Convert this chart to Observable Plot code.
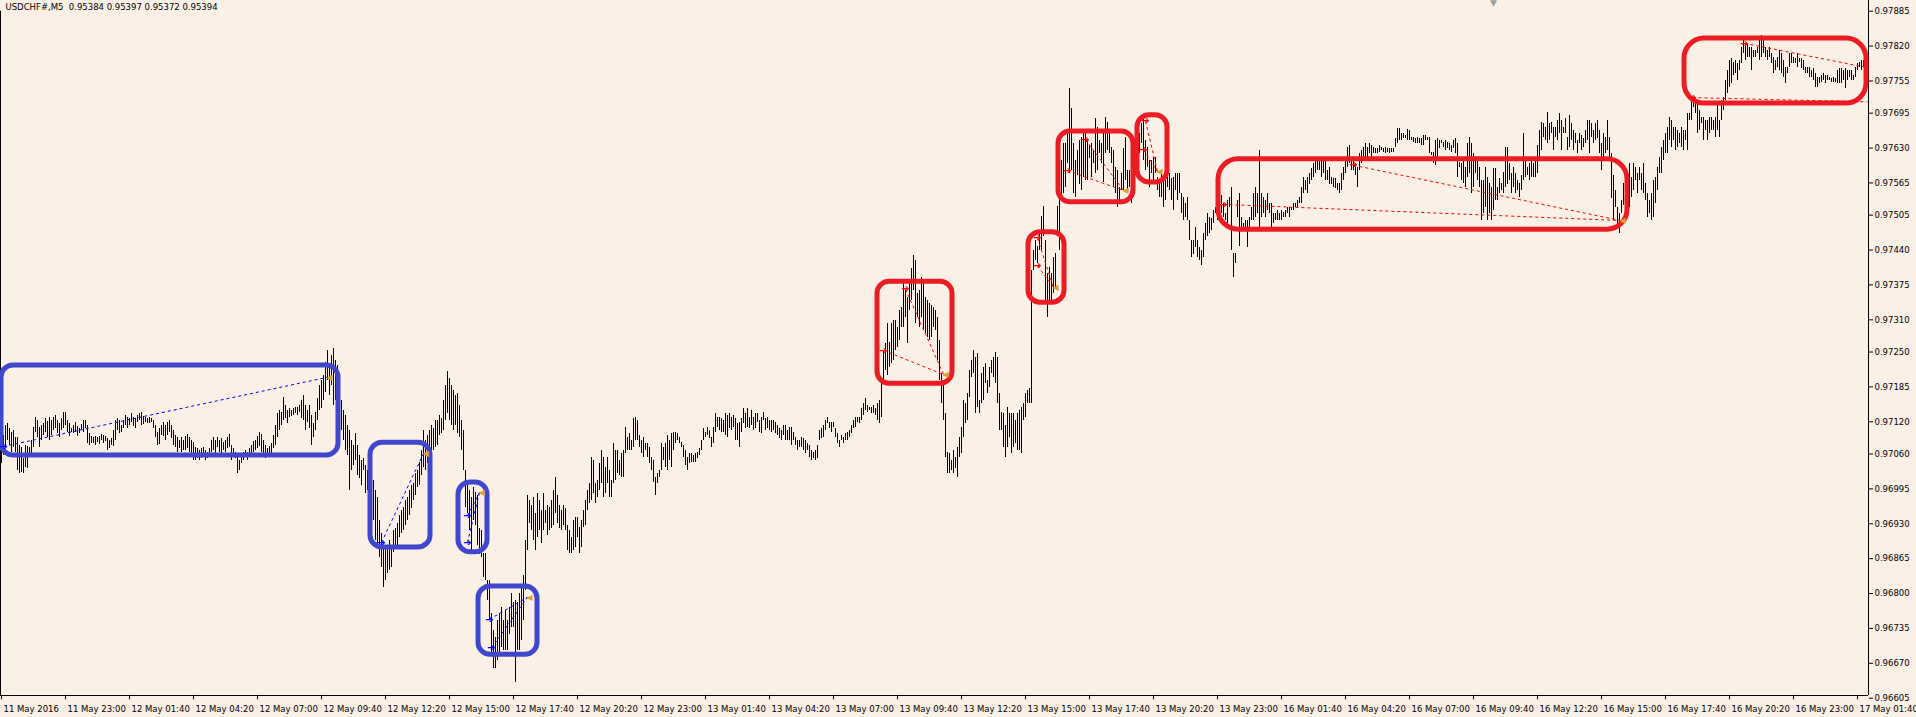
<!DOCTYPE html>
<html>
<head>
<meta charset="utf-8">
<script src="https://cdn.jsdelivr.net/npm/d3@7"></script>
<script src="https://cdn.jsdelivr.net/npm/@observablehq/plot@0.6"></script>
<style>
  html, body { margin: 0; padding: 0; background: #faf0e6; overflow: hidden; }
  svg { display: block; }
</style>
</head>
<body>
<div id="chart"></div>
<script>
// ---- DATA (prices in units of 0.00001) ----
const symbolTitle = "USDCHF#,M5  0.95384 0.95397 0.95372 0.95394";

const barHigh = [
97082,97094,97113,97117,97107,97100,97104,97091,97091,97076,
97072,97052,97076,97074,97072,97085,97110,97128,97122,97110,
97113,97117,97126,97120,97128,97122,97128,97132,97122,97117,
97126,97137,97137,97122,97117,97107,97113,97119,97111,97107,
97115,97122,97122,97113,97098,97093,97091,97093,97091,97093,
97096,97094,97093,97089,97085,97089,97104,97122,97126,97122,
97113,97122,97132,97128,97126,97135,97128,97126,97132,97135,
97137,97130,97128,97126,97128,97126,97122,97113,97100,97107,
97113,97119,97113,97119,97122,97113,97104,97094,97091,97085,
97091,97085,97093,97096,97091,97085,97081,97072,97070,97066,
97070,97072,97066,97063,97070,97085,97091,97085,97091,97085,
97089,97081,97085,97091,97096,97076,97070,97063,97057,97048,
97057,97063,97066,97063,97070,97076,97083,97085,97093,97100,
97096,97085,97076,97070,97074,97079,97094,97113,97135,97141,
97137,97165,97150,97141,97145,97141,97145,97147,97147,97150,
97160,97169,97150,97141,97150,97132,97117,97137,97163,97188,
97197,97206,97230,97253,97225,97243,97256,97234,97225,97197,
97160,97141,97132,97113,97104,97085,97076,97098,97076,97057,
97048,97052,97039,97029,97020,97011,97011,96992,96979,96936,
96912,96890,96886,96884,96899,96890,96917,96921,96931,96945,
96955,96960,96973,96979,96992,97001,97005,97024,97029,97044,
97066,97104,97085,97094,97104,97113,97107,97122,97122,97132,
97126,97160,97188,97214,97200,97188,97178,97169,97173,97150,
97122,97104,97029,97005,96992,96979,96997,96988,96983,96921,
96917,96875,96875,96824,96824,96762,96731,96718,96750,96762,
96774,96750,96768,96750,96774,96800,96783,96787,96783,96800,
96815,96834,96899,96983,96973,96964,96979,96949,96986,96973,
96955,96986,96955,96964,96960,96973,96992,97016,96983,96964,
96955,96964,96958,96927,96917,96904,96936,96941,96941,96923,
96936,96955,96973,96992,97005,97053,97048,97005,97011,97042,
97066,97053,97035,97053,97029,97011,97079,97066,97066,97048,
97061,97066,97109,97091,97098,97085,97126,97128,97122,97094,
97085,97091,97079,97079,97072,97053,97048,97016,97024,97029,
97079,97072,97079,97094,97085,97098,97100,97100,97098,97091,
97081,97076,97066,97053,97061,97061,97057,97061,97063,97070,
97085,97107,97100,97109,97104,97091,97109,97135,97128,97128,
97126,97122,97135,97132,97135,97128,97132,97126,97117,97119,
97126,97145,97135,97145,97128,97141,97128,97135,97135,97122,
97128,97137,97126,97128,97122,97122,97122,97119,97113,97107,
97104,97113,97113,97104,97109,97109,97100,97091,97085,97085,
97091,97089,97085,97079,97076,97066,97063,97066,97076,97104,
97107,97113,97122,97128,97119,97119,97119,97107,97098,97085,
97094,97091,97098,97100,97104,97113,97122,97128,97128,97128,
97145,97154,97163,97150,97147,97147,97150,97145,97154,97160,
97197,97253,97266,97303,97268,97303,97309,97309,97296,97327,
97333,97378,97365,97352,97378,97406,97430,97421,97359,97365,
97389,97378,97352,97346,97340,97337,97333,97327,97314,97271,
97210,97191,97135,97063,97061,97048,97066,97053,97072,97091,
97109,97160,97154,97173,97216,97234,97253,97240,97247,97160,
97210,97221,97229,97197,97221,97234,97240,97249,97240,97173,
97137,97135,97113,97147,97135,97135,97135,97122,97135,97141,
97147,97154,97173,97178,97182,97402,97439,97458,97447,97476,
97502,97521,97458,97396,97408,97396,97426,97434,97521,97588,
97607,97638,97638,97663,97741,97704,97638,97607,97625,97644,
97650,97659,97657,97644,97635,97638,97625,97685,97668,97644,
97638,97657,97687,97678,97663,97631,97625,97594,97588,97556,
97582,97629,97650,97588,97588,97601,97607,97644,97653,97657,
97676,97685,97644,97631,97607,97607,97612,97612,97575,97569,
97588,97575,97569,97582,97582,97573,97575,97582,97582,97582,
97545,97538,97527,97538,97495,97458,97458,97482,97458,97445,
97439,97471,97490,97508,97501,97499,97514,97519,97508,97545,
97542,97527,97508,97532,97538,97556,97434,97434,97532,97545,
97501,97490,97495,97495,97501,97519,97545,97556,97545,97625,
97545,97538,97532,97545,97527,97527,97508,97508,97514,97508,
97514,97510,97514,97519,97519,97519,97527,97527,97532,97538,
97556,97575,97569,97575,97582,97592,97601,97607,97612,97607,
97612,97607,97607,97588,97594,97575,97573,97573,97564,97564,
97582,97594,97607,97631,97635,97612,97607,97601,97594,97620,
97625,97631,97638,97631,97638,97635,97631,97629,97629,97635,
97631,97629,97631,97629,97629,97629,97629,97648,97666,97666,
97657,97657,97653,97664,97663,97650,97650,97648,97650,97648,
97648,97653,97653,97650,97650,97622,97622,97644,97648,97644,
97644,97640,97644,97640,97638,97635,97644,97648,97638,97603,
97601,97607,97594,97638,97650,97638,97620,97607,97607,97594,
97570,97570,97594,97575,97564,97556,97592,97592,97556,97573,
97564,97584,97631,97631,97601,97582,97594,97582,97570,97564,
97579,97657,97607,97594,97601,97612,97601,97612,97635,97663,
97678,97676,97668,97696,97676,97678,97668,97668,97681,97694,
97681,97668,97685,97650,97691,97676,97663,97657,97644,97657,
97653,97648,97663,97681,97681,97676,97663,97676,97681,97663,
97638,97657,97650,97681,97650,97620,97579,97551,97519,97508,
97532,97564,97588,97579,97601,97575,97601,97594,97582,97594,
97582,97601,97564,97545,97532,97545,97570,97575,97594,97612,
97631,97644,97657,97668,97687,97681,97668,97668,97663,97657,
97668,97663,97663,97694,97694,97724,97713,97719,97713,97700,
97687,97687,97681,97681,97687,97687,97681,97687,97713,97681,
97719,97724,97756,97774,97793,97797,97789,97793,97787,97793,
97817,97830,97824,97824,97817,97817,97812,97812,97817,97830,
97840,97830,97817,97812,97817,97806,97799,97793,97799,97812,
97806,97793,97780,97780,97806,97806,97799,97797,97806,97797,
97797,97793,97780,97780,97780,97774,97778,97769,97761,97761,
97765,97769,97765,97765,97761,97759,97761,97759,97774,97778,
97778,97774,97778,97774,97774,97774,97765,97780,97787,97789,
97793,97793,97787
];

const barLow = [
97042,97057,97072,97085,97076,97062,97072,97062,97029,97023,
97025,97023,97035,97033,97057,97061,97072,97100,97091,97072,
97085,97094,97100,97091,97085,97094,97104,97107,97098,97091,
97104,97107,97113,97100,97093,97100,97098,97100,97093,97098,
97104,97100,97107,97079,97076,97079,97079,97076,97081,97078,
97085,97079,97083,97066,97070,97076,97074,97085,97104,97098,
97100,97107,97113,97107,97113,97119,97111,97107,97119,97122,
97113,97115,97119,97117,97117,97119,97107,97091,97076,97078,
97094,97093,97085,97094,97100,97089,97076,97072,97062,97070,
97062,97066,97066,97070,97062,97057,97048,97048,97052,97048,
97052,97057,97048,97052,97055,97063,97066,97057,97072,97063,
97057,97066,97063,97070,97072,97048,97057,97052,97023,97029,
97042,97048,97055,97048,97055,97055,97063,97066,97070,97074,
97063,97057,97052,97055,97057,97055,97070,97076,97091,97104,
97113,97122,97126,97117,97128,97130,97132,97135,97132,97137,
97126,97122,97104,97119,97107,97076,97091,97104,97122,97141,
97145,97160,97174,97197,97169,97188,97150,97160,97206,97132,
97104,97085,97066,97057,96992,97029,97039,97048,97020,97015,
97001,97029,96986,96992,96986,96983,96936,96899,96890,96867,
96848,96812,96825,96838,96843,96849,96876,96886,96890,96904,
96912,96917,96927,96936,96945,96958,96973,96983,96997,97001,
97020,97035,97029,97042,97057,97063,97066,97072,97076,97094,
97098,97104,97122,97135,97122,97113,97104,97113,97098,97091,
97066,97029,96960,96949,96917,96880,96936,96927,96890,96873,
96867,96830,96824,96787,96750,96688,96660,96660,96675,96688,
96699,96694,96694,96694,96724,96737,96737,96634,96694,96694,
96712,96750,96806,96880,96930,96917,96899,96880,96904,96917,
96893,96917,96930,96908,96917,96921,96927,96949,96930,96921,
96917,96927,96917,96880,96875,96875,96880,96886,96904,96875,
96886,96923,96927,96955,96967,96973,96986,96967,96979,96992,
97005,96979,96986,97005,96979,96979,97005,97011,97024,97020,
97016,97016,97061,97066,97066,97066,97072,97085,97085,97072,
97061,97053,97066,97053,97042,97029,97007,96983,97005,97016,
97029,97048,97035,97029,97048,97035,97066,97079,97085,97079,
97072,97053,97039,97029,97042,97044,97044,97044,97052,97057,
97066,97085,97091,97094,97089,97072,97079,97100,97109,97104,
97100,97100,97094,97091,97107,97104,97109,97085,97085,97072,
97100,97117,97107,97109,97107,97113,97104,97107,97119,97100,
97098,97122,97104,97107,97104,97100,97104,97098,97094,97089,
97085,97094,97085,97085,97085,97076,97085,97076,97066,97072,
97072,97066,97061,97066,97053,97048,97052,97048,97052,97085,
97089,97091,97104,97117,97107,97100,97109,97091,97079,97072,
97085,97079,97085,97085,97091,97098,97107,97109,97119,97117,
97122,97132,97141,97137,97141,97135,97135,97132,97122,97117,
97128,97197,97216,97206,97221,97229,97234,97253,97258,97271,
97296,97296,97314,97266,97327,97346,97365,97303,97314,97296,
97314,97290,97284,97277,97271,97277,97296,97290,97234,97197,
97154,97122,97053,97024,97024,97029,97024,97033,97016,97053,
97061,97091,97117,97122,97165,97203,97210,97135,97147,97135,
97154,97160,97191,97173,97184,97210,97203,97191,97154,97104,
97104,97072,97053,97072,97091,97061,97072,97079,97066,97066,
97061,97122,97128,97154,97154,97154,97402,97420,97415,97439,
97439,97465,97340,97314,97346,97346,97359,97371,97465,97439,
97532,97545,97556,97601,97582,97588,97545,97538,97579,97562,
97551,97575,97569,97569,97610,97575,97601,97582,97588,97620,
97601,97566,97620,97625,97620,97601,97556,97545,97519,97532,
97551,97551,97569,97545,97556,97527,97538,97579,97612,97620,
97638,97607,97588,97594,97556,97582,97569,97582,97551,97538,
97538,97519,97532,97556,97551,97532,97514,97551,97532,97545,
97508,97495,97501,97495,97458,97426,97432,97445,97426,97420,
97411,97426,97458,97465,97471,97476,97490,97508,97495,97514,
97508,97501,97495,97490,97519,97439,97389,97415,97501,97447,
97482,97476,97480,97445,97482,97495,97495,97501,97508,97482,
97501,97508,97501,97514,97508,97482,97490,97495,97495,97495,
97495,97501,97501,97508,97501,97514,97514,97519,97519,97527,
97527,97545,97551,97545,97562,97569,97575,97582,97588,97588,
97575,97582,97569,97569,97562,97562,97556,97554,97551,97545,
97551,97569,97582,97594,97601,97588,97588,97579,97556,97588,
97601,97607,97607,97612,97620,97612,97620,97620,97620,97622,
97625,97622,97620,97622,97620,97622,97622,97631,97638,97644,
97644,97648,97648,97644,97644,97644,97640,97638,97638,97638,
97635,97635,97644,97644,97620,97616,97601,97597,97607,97629,
97638,97631,97625,97629,97625,97622,97629,97620,97575,97594,
97570,97564,97556,97575,97582,97545,97556,97582,97569,97556,
97495,97508,97519,97495,97508,97495,97514,97532,97532,97545,
97551,97545,97556,97562,97570,97545,97556,97545,97551,97538,
97551,97570,97575,97579,97570,97575,97575,97575,97582,97612,
97625,97650,97644,97638,97644,97657,97625,97650,97644,97657,
97625,97657,97657,97625,97631,97644,97625,97638,97620,97638,
97625,97631,97638,97644,97620,97650,97638,97644,97648,97620,
97588,97612,97620,97625,97607,97536,97495,97519,97482,97471,
97508,97523,97514,97532,97519,97538,97551,97570,97545,97570,
97551,97545,97532,97501,97508,97495,97501,97527,97551,97582,
97582,97607,97620,97620,97644,97631,97644,97625,97631,97638,
97631,97625,97644,97625,97681,97681,97705,97694,97657,97663,
97676,97644,97663,97644,97657,97663,97663,97650,97663,97650,
97681,97700,97719,97731,97743,97750,97765,97769,97756,97774,
97787,97806,97793,97799,97799,97774,97799,97799,97806,97793,
97799,97806,97799,97793,97799,97787,97769,97774,97780,97774,
97769,97761,97750,97769,97780,97787,97787,97787,97780,97789,
97778,97774,97769,97769,97761,97761,97756,97743,97743,97750,
97752,97756,97750,97756,97756,97752,97752,97752,97750,97750,
97750,97756,97741,97756,97761,97756,97756,97761,97774,97780,
97774,97780,97774
];

// time-axis labels (one every 32 bars, MetaTrader style)
const xTickBars = [0,32,64,96,128,160,192,224,256,288,320,352,384,416,448,480,512,544,576,608,640,672,704,736,768,800,832,864,896,928];
const xTickLabels = ["11 May 2016","11 May 23:00","12 May 01:40","12 May 04:20","12 May 07:00","12 May 09:40","12 May 12:20","12 May 15:00","12 May 17:40","12 May 20:20","12 May 23:00","13 May 01:40","13 May 04:20","13 May 07:00","13 May 09:40","13 May 12:20","13 May 15:00","13 May 17:40","13 May 20:20","13 May 23:00","16 May 01:40","16 May 04:20","16 May 07:00","16 May 09:40","16 May 12:20","16 May 15:00","16 May 17:40","16 May 20:20","16 May 23:00","17 May 01:40"];
const yTickValues = [0.97885,0.97820,0.97755,0.97695,0.97630,0.97565,0.97505,0.97440,0.97375,0.97310,0.97250,0.97185,0.97120,0.97060,0.96995,0.96930,0.96865,0.96800,0.96735,0.96670,0.96605];

// annotation boxes: [fromBar, toBar, lowPrice, highPrice]
const blueBoxes = [[0,168.5,0.97057,0.97225],[184.5,214.5,0.96886,0.97081],[228.5,243,0.96877,0.97007],[238.5,268,0.96686,0.96813]];
const redBoxes  = [[438,475.5,0.97191,0.97381],[513.5,531.5,0.97342,0.97473],[528.5,566,0.97529,0.97661],[568,583,0.97566,0.97691]];
const redWideBoxes = [[608.5,813,0.97478,0.97609],[841.5,932.5,0.97713,0.97834]];

// dotted connection lines: [barA, priceA, barB, priceB]
const blueLinks = [[1,0.97074,163,0.97203],[190,0.96895,211,0.97061],[233,0.96945,239,0.96988],[233,0.96895,239,0.96988],[244,0.96752,263,0.96793],[245,0.96698,263,0.96793]];
const redLinks = [[441,0.97253,471,0.97208],[452,0.97367,471,0.97208],[518,0.97462,526,0.97370],[518,0.97411,526,0.97370],[533,0.97588,561,0.97551],[542,0.97646,561,0.97551],[572,0.97680,578,0.97586],[571,0.97627,578,0.97586],[611,0.97525,809.5,0.97495],[676,0.97598,809.5,0.97495],[845.5,0.97724,933,0.97716],[871.5,0.97825,933,0.97780]];

// entry arrows and exit triangles: [bar, price]
const blueArrows = [[1,0.97074],[190,0.96895],[233,0.96945],[233,0.96895],[244,0.96752],[245,0.96698]];
const redArrows = [[441,0.97253],[452,0.97367],[518,0.97462],[518,0.97411],[533,0.97588],[542,0.97646],[572,0.97680],[571,0.97627],[611,0.97525],[676,0.97598],[845.5,0.97724],[871.5,0.97825]];
const exitMarks = [[163,0.97203],[211,0.97061],[239,0.96988],[263,0.96793],[471,0.97208],[526,0.97370],[561,0.97551],[578,0.97586],[809.5,0.97495]];
const shiftMarker = [[746,0.97900]];

// ---- BUILD ----
const n = Math.min(barHigh.length, barLow.length);
const bars = d3.range(n).map(i => ({i, high: barHigh[i] / 1e5, low: barLow[i] / 1e5}));
const box = a => ({x1: a[0], x2: a[1], y1: a[2], y2: a[3]});
const link = a => ({x1: a[0], y1: a[1], x2: a[2], y2: a[3]});
const pt = a => ({x: a[0], y: a[1]});

const FONT = "'DejaVu Sans', Verdana, sans-serif";
const FS = 8.5;
const yTop = 0.97906, yBottom = 0.96610, yTickEnd = 0.96602;

const chart = Plot.plot({
  width: 1916,
  height: 717,
  marginLeft: 0,
  marginRight: 48,
  marginTop: 10.7,
  marginBottom: 19.3,
  style: {background: "#faf0e6", fontFamily: FONT, fontSize: FS + "px", color: "#000", overflow: "visible"},
  x: {type: "linear", domain: [-0.5, 933.5], axis: null},
  y: {type: "linear", domain: [0.96605, 0.97885], axis: null},
  marks: [
    // price bars
    Plot.ruleX(bars, {x: "i", y1: "low", y2: "high", stroke: "#000", strokeWidth: 1, shapeRendering: "crispEdges"}),
    // frame
    Plot.ruleX([-0.5], {y1: yBottom, y2: 0.97885, stroke: "#000"}),
    Plot.ruleX([933.5], {y1: yBottom, y2: yTop, stroke: "#000"}),
    Plot.ruleY([yBottom], {x1: -0.5, x2: 933.5, stroke: "#000"}),
    // y axis (right)
    Plot.axisY({anchor: "right", ticks: yTickValues, tickFormat: d3.format(".5f"), tickSize: 4, tickPadding: 2, fontSize: FS, label: null}),
    // x axis (bottom)
    Plot.ruleX(xTickBars, {x: d => d, y1: yBottom, y2: yTickEnd, stroke: "#000"}),
    Plot.text(xTickBars, {x: d => d, y: yBottom, text: (d, i) => xTickLabels[i], textAnchor: "start", dx: 2, dy: 14, fontSize: FS, fill: "#000"}),
    // chart title
    Plot.text([symbolTitle], {frameAnchor: "top-left", dx: 5, dy: -3.5, textAnchor: "start", lineAnchor: "middle", fontSize: FS, fill: "#000"}),
    // chart shift marker
    Plot.text(shiftMarker.map(pt), {x: "x", y: "y", text: () => "▼", fontSize: 9, fill: "#a0a0a0"}),
    // annotation boxes
    Plot.rect(blueBoxes.map(box), {x1: "x1", x2: "x2", y1: "y1", y2: "y2", fill: "none", stroke: "#3f48cc", strokeWidth: 5, rx: 12}),
    Plot.rect(redBoxes.map(box), {x1: "x1", x2: "x2", y1: "y1", y2: "y2", fill: "none", stroke: "#ed1c24", strokeWidth: 5, rx: 12}),
    Plot.rect(redWideBoxes.map(box), {x1: "x1", x2: "x2", y1: "y1", y2: "y2", fill: "none", stroke: "#ed1c24", strokeWidth: 5, rx: 20}),
    // dotted trade lines
    Plot.link(blueLinks.map(link), {x1: "x1", y1: "y1", x2: "x2", y2: "y2", stroke: "#0000ff", strokeWidth: 1, strokeDasharray: "3,3"}),
    Plot.link(redLinks.map(link), {x1: "x1", y1: "y1", x2: "x2", y2: "y2", stroke: "#ff0000", strokeWidth: 1, strokeDasharray: "3,3"}),
    // markers
    Plot.text(blueArrows.map(pt), {x: "x", y: "y", text: () => "➔", fontSize: 10, fill: "#0000ff"}),
    Plot.text(redArrows.map(pt), {x: "x", y: "y", text: () => "➔", fontSize: 10, fill: "#ff0000"}),
    Plot.text(exitMarks.map(pt), {x: "x", y: "y", text: () => "◀", fontSize: 8, fill: "#daa520", textAnchor: "start", dx: -1})
  ]
});
document.getElementById("chart").appendChild(chart);
</script>
</body>
</html>
